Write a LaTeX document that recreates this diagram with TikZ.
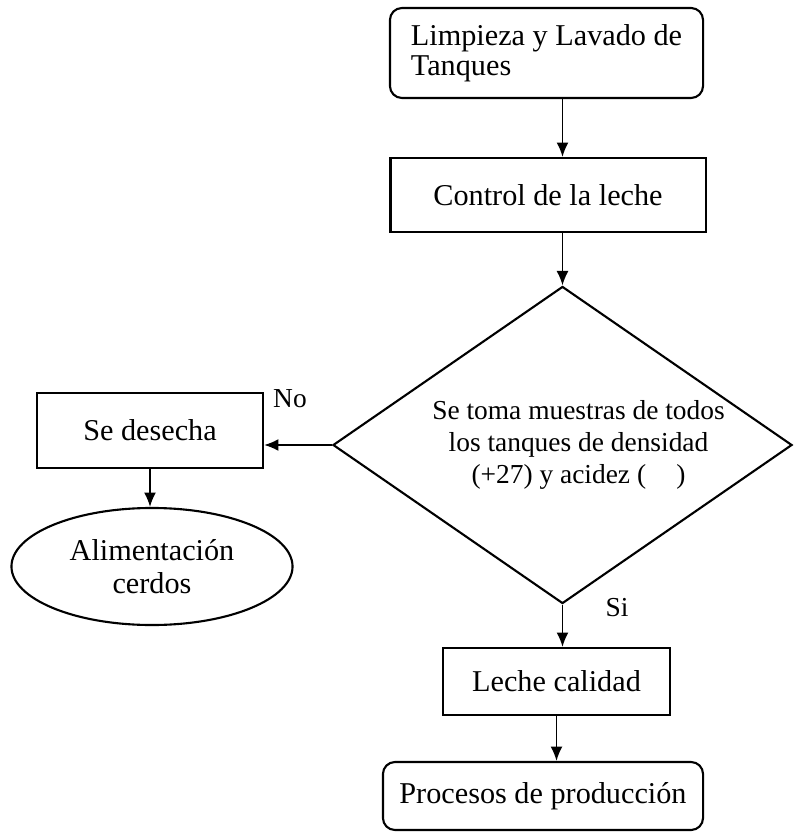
\documentclass[tikz,border=0pt]{standalone}
\usepackage{fontspec}
\setmainfont{Liberation Serif}
\usetikzlibrary{shapes.geometric, arrows.meta}
\tikzstyle{rect} = [rectangle, draw=black, line width=1.5pt, text centered]
\tikzstyle{rRect} = [rectangle, rounded corners=0.3cm, draw=black, line width=1.5pt]
\tikzstyle{decision} = [diamond, aspect=1.45, draw=black, line width=1.5pt, align=center, inner sep=0pt, font=\fontsize{19.5}{23}\selectfont]
\tikzstyle{mEllipse} = [ellipse, draw=black, line width=1.5pt, align=center, font=\fontsize{21.5}{23.5}\selectfont]
\tikzstyle{blank} = [rectangle, font=\fontsize{19.5}{23}\selectfont]
\tikzstyle{arrow} = [-{Latex[length=0.36cm,width=0.3cm]}, line width=1.2pt]

\begin{document}
\begin{tikzpicture}[x=0.025cm, y=-0.025cm, every node/.style={font=\fontsize{21.5}{21.5}\selectfont}]
        \useasboundingbox (0,0) rectangle (793,832);

        \node[rRect, minimum width=7.825cm, minimum height=2.25cm, align=left] (lavado) at (546.5,53) {Limpieza y Lavado de\\Tanques};
        \node[rect, minimum width=7.875cm, minimum height=1.85cm] (control) at (548,195) {Control de la leche};
        \node[decision, minimum width=11.475cm, minimum height=7.925cm] (muestra) at (562.5,445) {\hspace*{0.8cm}Se toma muestras de todos\\\hspace*{0.8cm}los tanques de densidad\\\hspace*{0.8cm}(+27) y acidez (\hspace{1.1em})};
        \node[rect, minimum width=5.65cm, minimum height=1.875cm] (desecha) at (150,430.5) {Se desecha};
        \node[mEllipse, minimum width=7.025cm, minimum height=2.925cm] (cerdos) at (152,566.5) {Alimentación\\cerdos};
        \node[rect, minimum width=5.675cm, minimum height=1.675cm] (calidad) at (556.5,681.5) {Leche calidad};
        \node[rRect, minimum width=8cm, minimum height=1.7cm] (procesos) at (543,796) {Procesos de producción};

        \node[blank] (no) at (290,399) {No};
        \node[blank] (si) at (617,608) {Si};

        \draw[arrow] (lavado.south -| muestra.north) -- (control.north -| muestra.north);
        \draw[arrow] (control.south -| muestra.north) -- (muestra.north);
        \draw[arrow] (muestra.west) -- (muestra.west -| desecha.east);
        \draw[arrow] (desecha.south) -- (desecha.south |- cerdos.north);
        \draw[arrow] (muestra.south) -- (muestra.south |- calidad.north);
        \draw[arrow] (calidad.south) -- (calidad.south |- procesos.north);
\end{tikzpicture}
\end{document}
